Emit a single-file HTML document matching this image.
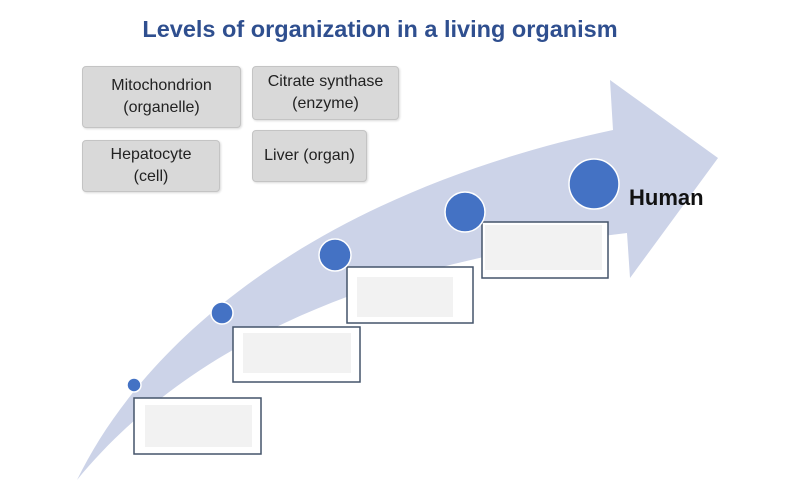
<!DOCTYPE html>
<html><head><style>
body{margin:0;width:800px;height:500px;background:#fff;overflow:hidden;position:relative;font-family:"Liberation Sans",sans-serif}
.t{position:absolute;left:0;width:760px;top:16px;text-align:center;font-size:23.5px;font-weight:bold;color:#2f4f8f}
.g{position:absolute;background:#d9d9d9;border:1px solid #c4c4c4;border-radius:4px;display:flex;align-items:center;justify-content:center;text-align:center;font-size:16px;line-height:22px;color:#222;box-sizing:border-box;box-shadow:1px 1px 2px rgba(0,0,0,0.15)}
</style></head><body>
<svg width="800" height="500" style="position:absolute;left:0;top:0">
<path d="M77,480 C150,330 330,190 613,130 L610,80 L718,158 L630,278 L627,233 C400,260 200,330 77,480 Z" fill="#ccd3e8"/>
<g fill="#fff" stroke="#44546a" stroke-width="1.5">
<rect x="134" y="398" width="127" height="56"/>
<rect x="233" y="327" width="127" height="55"/>
<rect x="347" y="267" width="126" height="56"/>
<rect x="482" y="222" width="126" height="56"/>
</g>
<g fill="#f2f2f2">
<rect x="145" y="405" width="107" height="42"/>
<rect x="243" y="333" width="108" height="40"/>
<rect x="357" y="277" width="96" height="40"/>
<rect x="485" y="225" width="117" height="45"/>
</g>
<g fill="#4472c4" stroke="#fff" stroke-width="1.5">
<circle cx="134" cy="385" r="7"/>
<circle cx="222" cy="313" r="11"/>
<circle cx="335" cy="255" r="16"/>
<circle cx="465" cy="212" r="20"/>
<circle cx="594" cy="184" r="25"/>
</g>
<text x="629" y="205" font-family="Liberation Sans" font-weight="bold" font-size="22" fill="#111">Human</text>
</svg>
<div class="t">Levels of organization in a living organism</div>
<div class="g" style="left:82px;top:66px;width:159px;height:62px">Mitochondrion<br>(organelle)</div>
<div class="g" style="left:252px;top:66px;width:147px;height:54px">Citrate synthase<br>(enzyme)</div>
<div class="g" style="left:82px;top:140px;width:138px;height:52px">Hepatocyte<br>(cell)</div>
<div class="g" style="left:252px;top:130px;width:115px;height:52px">Liver (organ)</div>
</body></html>
